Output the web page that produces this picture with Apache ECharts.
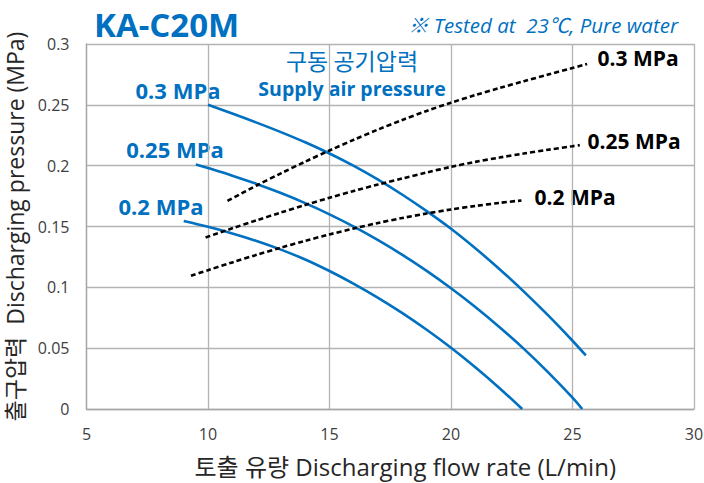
<!DOCTYPE html>
<html>
<head>
<meta charset="utf-8">
<script src="https://cdn.jsdelivr.net/npm/echarts@6/dist/echarts.min.js"></script>
<style>
html,body{margin:0;padding:0;background:#fff;}
#chart{width:704px;height:483px;}
</style>
</head>
<body>
<div id="chart"></div>
<script>
// Axis ticks
var xTicks = [5, 10, 15, 20, 25, 30];
var yTicks = [0, 0.05, 0.1, 0.15, 0.2, 0.25, 0.3];

// Pump curves (blue) by supply air pressure
var pump03X = [10, 11, 12, 13, 14, 15, 16, 17, 18, 19, 20, 21, 22, 23, 24, 25, 25.55];
var pump03Y = [0.250, 0.2428, 0.2354, 0.2276, 0.2192, 0.2100, 0.1998, 0.1885, 0.1761, 0.1626, 0.1481, 0.1321, 0.1149, 0.0965, 0.0769, 0.0561, 0.044];
var pump025X = [9.5, 10, 11, 12, 13, 14, 15, 16, 17, 18, 19, 20, 21, 22, 23, 24, 25, 25.4];
var pump025Y = [0.201, 0.198, 0.1918, 0.185, 0.1775, 0.1692, 0.160, 0.1499, 0.1388, 0.1267, 0.1135, 0.0992, 0.0838, 0.0672, 0.0494, 0.0301, 0.0093, 0];
var pump02X = [9, 10, 11, 12, 13, 14, 15, 16, 17, 18, 19, 20, 21, 22, 22.93];
var pump02Y = [0.1545, 0.1497, 0.1443, 0.1381, 0.131, 0.1229, 0.1134, 0.1029, 0.0914, 0.0788, 0.0651, 0.0503, 0.0343, 0.0171, 0];

// Operating lines (black dashed)
var air03X = [10.8, 12, 13, 14, 15, 16, 17, 18, 19, 20, 21, 22, 23, 24, 25, 25.6];
var air03Y = [0.171, 0.1837, 0.1937, 0.2033, 0.2125, 0.2213, 0.2297, 0.2376, 0.245, 0.2518, 0.258, 0.2638, 0.2694, 0.2749, 0.2803, 0.2835];
var air025X = [9.9, 11, 12, 13, 14, 15, 16, 17, 18, 19, 20, 21, 22, 23, 24, 25, 25.3];
var air025Y = [0.141, 0.1485, 0.1551, 0.1615, 0.1677, 0.1736, 0.1792, 0.1845, 0.1895, 0.1944, 0.199, 0.2031, 0.2067, 0.210, 0.2131, 0.216, 0.2169];
var air02X = [9.3, 10, 11, 12, 13, 14, 15, 16, 17, 18, 19, 20, 21, 22, 22.9];
var air02Y = [0.1095, 0.1141, 0.1205, 0.1267, 0.1326, 0.1382, 0.1435, 0.1484, 0.1529, 0.157, 0.1607, 0.164, 0.1669, 0.1694, 0.1714];

var seriesLabels = ['0.3 MPa', '0.25 MPa', '0.2 MPa'];

function zip(xs, ys) { return xs.map(function (x, i) { return [x, ys[i]]; }); }

var BLUE = '#0070C0';
var FONT = "'Open Sans', 'Noto Sans CJK KR', sans-serif";
var KFONT = "'Noto Sans CJK KR', 'Open Sans', sans-serif";

function blue(name, xs, ys) {
  return { name: name, type: 'line', data: zip(xs, ys), smooth: 0.3, symbol: 'none',
    lineStyle: { color: BLUE, width: 2.6 }, z: 3 };
}
function dash(name, xs, ys) {
  return { name: name, type: 'line', data: zip(xs, ys), smooth: 0.3, symbol: 'none',
    lineStyle: { color: '#000', width: 2.6, type: [5, 3] }, z: 4 };
}

var chart = echarts.init(document.getElementById('chart'), null, { renderer: 'svg' });
chart.setOption({
  animation: false,
  backgroundColor: '#fff',
  grid: { left: 86.5, right: 10, top: 44, bottom: 74, containLabel: false, outerBoundsMode: 'none' },
  xAxis: {
    type: 'value', min: xTicks[0], max: xTicks[xTicks.length - 1], interval: 5,
    name: '토출 유량 Discharging flow rate (L/min)', nameLocation: 'middle', nameGap: 45,
    nameTextStyle: { fontFamily: FONT, fontSize: 24, color: '#262626', padding: [0, 0, 0, 30] },
    axisLine: { show: true, lineStyle: { color: '#a6a6a6', width: 1.3 } },
    axisTick: { show: false },
    axisLabel: { fontFamily: FONT, fontSize: 16, color: '#404040', margin: 17 },
    splitLine: { show: true, lineStyle: { color: '#b3b3b3', width: 1.3 } }
  },
  yAxis: {
    type: 'value', min: yTicks[0], max: yTicks[yTicks.length - 1], interval: 0.05,
    name: '출구압력  Discharging pressure (MPa)', nameLocation: 'middle', nameGap: 60, nameRotate: 90,
    nameTextStyle: { fontFamily: FONT, fontSize: 23, color: '#262626' },
    axisLine: { show: true, lineStyle: { color: '#a6a6a6', width: 1.3 } },
    axisTick: { show: false },
    axisLabel: { fontFamily: FONT, fontSize: 16, color: '#404040', margin: 17 },
    splitLine: { show: true, lineStyle: { color: '#b3b3b3', width: 1.3 } }
  },
  series: [
    blue('pump ' + seriesLabels[0], pump03X, pump03Y),
    blue('pump ' + seriesLabels[1], pump025X, pump025Y),
    blue('pump ' + seriesLabels[2], pump02X, pump02Y),
    dash('air ' + seriesLabels[0], air03X, air03Y),
    dash('air ' + seriesLabels[1], air025X, air025Y),
    dash('air ' + seriesLabels[2], air02X, air02Y)
  ],
  graphic: [
    { type: 'text', x: 94, y: 24, style: { text: 'KA-C20M', font: "bold 33px " + FONT, fill: BLUE, textVerticalAlign: 'middle' } },
    { type: 'text', x: 678, y: 25, style: { text: '※ Tested at  23℃, Pure water', font: "italic 20.5px " + FONT, fill: BLUE, textAlign: 'right', textVerticalAlign: 'middle' } },
    { type: 'text', x: 352, y: 60, style: { text: '구동 공기압력', font: "23px " + KFONT, fill: BLUE, textAlign: 'center', textVerticalAlign: 'middle' } },
    { type: 'text', x: 352, y: 88, style: { text: 'Supply air pressure', font: "bold 19.5px " + FONT, fill: BLUE, textAlign: 'center', textVerticalAlign: 'middle' } },
    { type: 'text', x: 178, y: 90, style: { text: seriesLabels[0], font: "bold 22px " + FONT, fill: BLUE, textAlign: 'center', textVerticalAlign: 'middle' } },
    { type: 'text', x: 175, y: 149, style: { text: seriesLabels[1], font: "bold 22px " + FONT, fill: BLUE, textAlign: 'center', textVerticalAlign: 'middle' } },
    { type: 'text', x: 161, y: 206, style: { text: seriesLabels[2], font: "bold 22px " + FONT, fill: BLUE, textAlign: 'center', textVerticalAlign: 'middle' } },
    { type: 'text', x: 638, y: 58, style: { text: seriesLabels[0], font: "bold 21px " + FONT, fill: '#000', textAlign: 'center', textVerticalAlign: 'middle' } },
    { type: 'text', x: 634, y: 141, style: { text: seriesLabels[1], font: "bold 21px " + FONT, fill: '#000', textAlign: 'center', textVerticalAlign: 'middle' } },
    { type: 'text', x: 575, y: 197, style: { text: seriesLabels[2], font: "bold 21px " + FONT, fill: '#000', textAlign: 'center', textVerticalAlign: 'middle' } }
  ]
});
</script>
</body>
</html>
